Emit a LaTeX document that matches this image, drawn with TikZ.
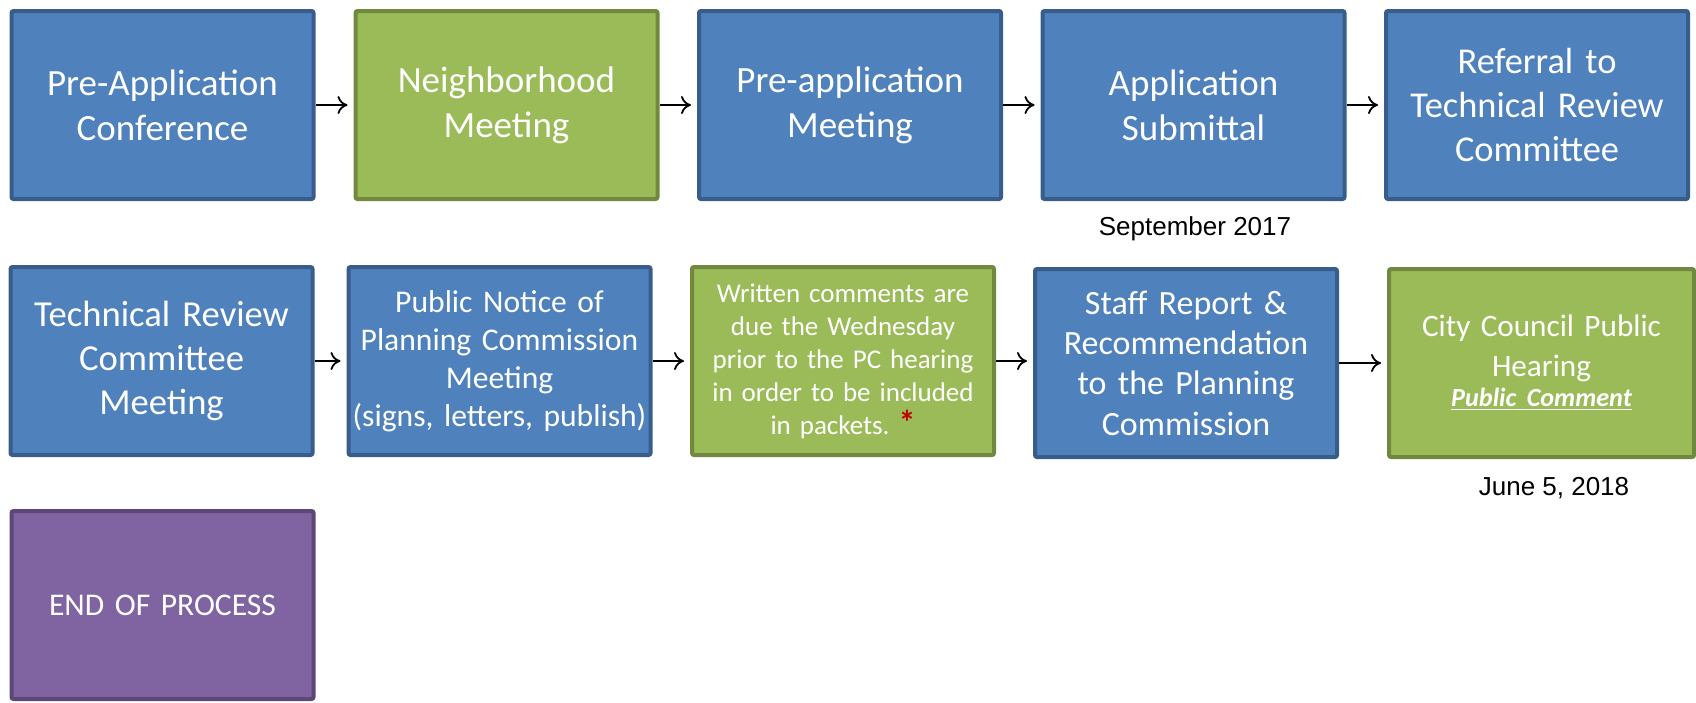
\documentclass[tikz,border=0pt]{standalone}
\usepackage{fontspec}
\setmainfont[WordSpace=0.8]{Carlito}
\newfontfamily\arialfont{Liberation Sans}
\usetikzlibrary{arrows.meta}
\definecolor{bfill}{HTML}{4F81BD}
\definecolor{bdraw}{HTML}{385D8A}
\definecolor{gfill}{HTML}{9BBB59}
\definecolor{gdraw}{HTML}{71893F}
\definecolor{pfill}{HTML}{8064A2}
\definecolor{pdraw}{HTML}{5C4776}
\definecolor{starred}{HTML}{C00000}
\tikzset{
  box/.style={rectangle, rounded corners=1pt, line width=2pt, minimum width=151pt, minimum height=94pt, text width=148pt, align=center, text=white, inner sep=0pt},
  bluebox/.style={box, fill=bfill, draw=bdraw},
  greenbox/.style={box, fill=gfill, draw=gdraw},
  purplebox/.style={box, fill=pfill, draw=pdraw},
  big/.style={font=\frenchspacing\fontsize{18.5}{22.5}\selectfont},
  small/.style={font=\frenchspacing\fontsize{13.5}{16.5}\selectfont},
  flow/.style={-{To[length=5pt,width=9pt]}, line width=0.9pt, black, shorten >=3pt},
  datelabel/.style={font=\arialfont\fontsize{13}{15}\selectfont, text=black}
}
\begin{document}
\begin{tikzpicture}[x=0.5pt,y=-0.5pt]
\useasboundingbox (0,0) rectangle (1696,702);
% row 1
\node[bluebox,big] (b1) at (162.5,105) {Pre-Application\\Conference};
\node[greenbox,big] (b2) at (506.5,105) {Neighborhood\\Meeting};
\node[bluebox,big] (b3) at (850,105) {Pre-application\\Meeting};
\node[bluebox,big] (b4) at (1193.5,105) {Application\\Submittal};
\node[bluebox,font=\frenchspacing\fontsize{18.2}{22}\selectfont] (b5) at (1537,105) {Referral to\\Technical Review\\Committee};
% row 2
\node[bluebox,font=\frenchspacing\fontsize{18.3}{22}\selectfont] (b6) at (161.5,361) {Technical Review\\Committee\\Meeting};
\node[bluebox,font=\frenchspacing\fontsize{15.8}{19}\selectfont] (b7) at (499.5,361) {Public Notice of\\Planning Commission\\Meeting\\(signs, letters, publish)};
\node[greenbox,small] (b8) at (843,361) {Written comments are\\due the Wednesday\\prior to the PC hearing\\in order to be included\\in packets. {\color{starred}\fontsize{17}{16.5}\selectfont\bfseries *}};
\node[bluebox,font=\frenchspacing\fontsize{17}{20.2}\selectfont] (b9) at (1186,363) {Staff Report \&\\Recommendation\\to the Planning\\Commission};
\node[greenbox,minimum width=152.5pt,font=\frenchspacing\fontsize{15.6}{20}\selectfont] (b10) at (1541.5,363) {City Council Public\\Hearing\\[-5pt]{\fontsize{13.1}{15}\selectfont\bfseries\itshape\underline{Public Comment}}};
% row 3
\node[purplebox,font=\frenchspacing\fontsize{15.8}{18}\selectfont] (b11) at (162.5,605) {END OF PROCESS};
% connectors
\draw[flow] (b1.east) -- (b2.west);
\draw[flow] (b2.east) -- (b3.west);
\draw[flow] (b3.east) -- (b4.west);
\draw[flow] (b4.east) -- (b5.west);
\draw[flow] (b6.east) -- (b7.west);
\draw[flow] (b7.east) -- (b8.west);
\draw[flow] (b8.east) -- (b8.east -| b9.west);
\draw[flow] (b9.east) -- (b9.east -| b10.west);
% dates
\node[datelabel] (d1) at (1195,229) {September 2017};
\node[datelabel] (d2) at (1554,488) {June 5, 2018};
\end{tikzpicture}
\end{document}
